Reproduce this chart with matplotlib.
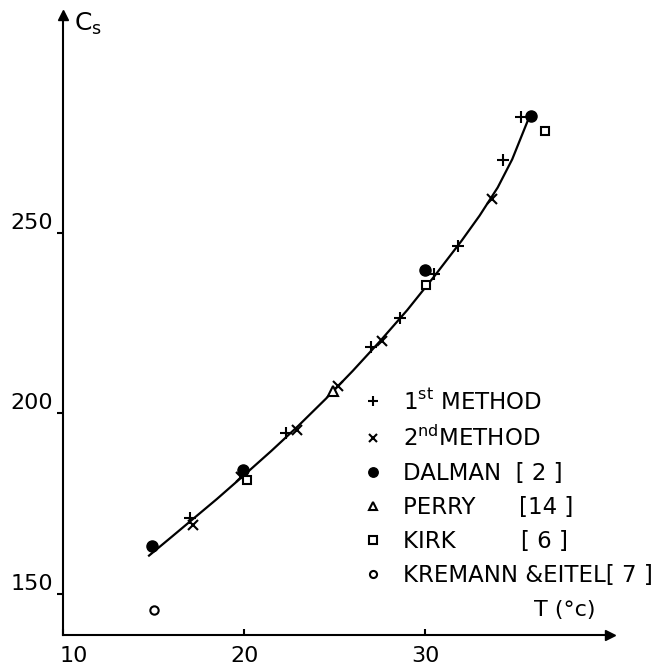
import matplotlib
matplotlib.use("Agg")
import matplotlib.pyplot as plt
from matplotlib.transforms import ScaledTranslation

plt.rcParams['font.family'] = ['DejaVu Sans']

# values: T (deg C) and Cs
first_T = [17.0, 22.3, 27.0, 28.6, 30.5, 31.8, 34.3, 35.3]
first_C = [171.0, 194.5, 218.5, 226.5, 238.5, 246.3, 270.2, 282.0]
second_T = [17.15, 19.8, 22.9, 25.2, 27.6, 33.7]
second_C = [169.2, 182.5, 195.5, 207.5, 220.0, 259.5]
dalman_T = [14.9, 19.95, 30.0, 35.85]
dalman_C = [163.3, 184.3, 239.8, 282.5]
perry_T = [24.9]
perry_C = [206.3]
kirk_T = [20.15, 30.05, 36.6]
kirk_C = [181.6, 235.6, 278.3]
kremann_T = [15.0]
kremann_C = [145.5]

# smooth curve through the data
fit_T = [14.75, 16.0, 17.0, 18.5, 20.0, 21.5, 23.0, 24.5, 26.0, 27.5,
         29.0, 30.5, 32.0, 33.0, 34.0, 34.8, 35.65]
fit_C = [160.6, 165.8, 170.0, 176.3, 182.9, 189.6, 196.6, 204.0, 211.8, 220.0,
         228.6, 238.0, 247.8, 254.8, 262.6, 270.4, 281.0]

xticks = [10, 20, 30]
yticks = [150, 200, 250]

fig = plt.figure(figsize=(6.6, 6.66), dpi=100)
ax = fig.add_axes([63/660, 31/666, 547/660, 620/666])
ax.set_xlim(10, 40.2)
ax.set_ylim(138.6, 310.4)

ax.plot(fit_T, fit_C, '-', color='k', lw=1.6)
ax.plot(first_T, first_C, '+', color='k', ms=8, mew=1.5, label=r'$\mathregular{1^{st}}$ METHOD')
ax.plot(second_T, second_C, 'x', color='k', ms=6.5, mew=1.5, label=r'$\mathregular{2^{nd}}$METHOD')
ax.plot(dalman_T, dalman_C, 'o', color='k', ms=8, label='DALMAN  [ 2 ]')
ax.plot(perry_T, perry_C, '^', mfc='white', mec='k', ms=7, mew=1.5, label='PERRY      [14 ]')
ax.plot(kirk_T, kirk_C, 's', mfc='white', mec='k', ms=6, mew=1.5, label='KIRK         [ 6 ]')
ax.plot(kremann_T, kremann_C, 'o', mfc='white', mec='k', ms=6, mew=1.5, label='KREMANN &EITEL[ 7 ]')

for s in ['top', 'right']:
    ax.spines[s].set_visible(False)
for s in ['left', 'bottom']:
    ax.spines[s].set_linewidth(1.5)

# arrow heads on the axes
ax.plot([1], [0], '>', color='k', ms=7, transform=ax.transAxes, clip_on=False)
ax.plot([0], [1], '^', color='k', ms=7, transform=ax.transAxes, clip_on=False)

ax.set_xticks(xticks)
ax.set_yticks(yticks)
ax.tick_params(axis='y', direction='out', length=4, width=1.5, pad=3, labelsize=16)
ax.tick_params(axis='x', direction='in', length=4, width=1.5, pad=8, labelsize=16)

up = ScaledTranslation(0, 12/100, fig.dpi_scale_trans)
for lab in ax.get_yticklabels():
    lab.set_transform(lab.get_transform() + up)
xl = ax.get_xticklabels()
xl[0].set_transform(xl[0].get_transform() + ScaledTranslation(11/100, 0, fig.dpi_scale_trans))

ax.text(0.02, 0.985, r'$\mathregular{C_s}$', transform=ax.transAxes, fontsize=18, va='center', ha='left')
ax.text(0.918, 0.04, 'T (°c)', transform=ax.transAxes, fontsize=16, va='center', ha='center')

leg = ax.legend(loc='upper left', bbox_to_anchor=(364/660, 1 - 389/666),
                bbox_transform=fig.transFigure, frameon=False, fontsize=16.5,
                numpoints=1, handlelength=0.8, handletextpad=0.9,
                borderpad=0, borderaxespad=0, labelspacing=0.48, markerscale=0.85)

fig.savefig('out.png', dpi=100)
